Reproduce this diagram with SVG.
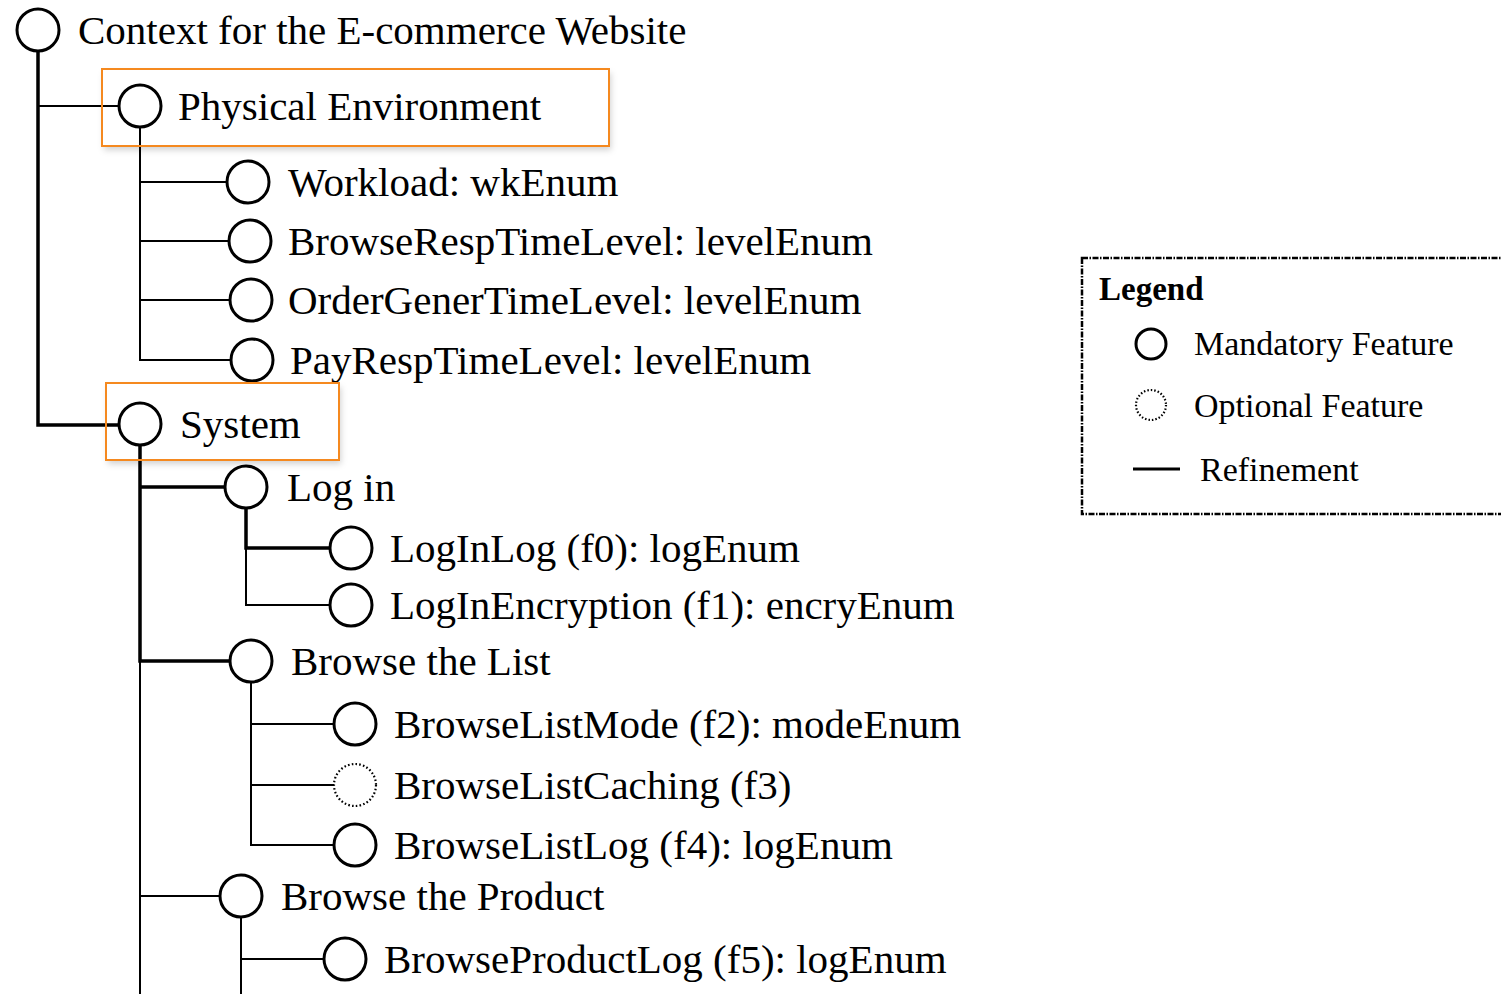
<svg xmlns="http://www.w3.org/2000/svg" width="1501" height="994" viewBox="0 0 1501 994">
<style>
text{font-family:"Liberation Serif","Times New Roman",serif;fill:#000}
.t{font-size:41px}
.lg{font-size:34px}
.f{fill:#fff;stroke:#000;stroke-width:3}
.o{fill:#fff;stroke:#000;stroke-width:2.2;stroke-dasharray:1.6 2.2}
.thin{stroke:#000;stroke-width:2;fill:none}
.thick{stroke:#000;stroke-width:3.5;fill:none}
.hl{fill:none;stroke:#F5891F;stroke-width:2}
</style>
<defs>
<filter id="sh" x="-5%" y="-10%" width="110%" height="130%">
<feDropShadow dx="2" dy="4" stdDeviation="3" flood-color="#000" flood-opacity="0.18"/>
</filter>
</defs>
<rect width="1501" height="994" fill="#fff"/>
<g id="highlights">
<rect x="102" y="69" width="507" height="77" fill="#fff" filter="url(#sh)"/>
<rect x="106" y="383" width="233" height="77" fill="#fff" filter="url(#sh)"/>
</g>
<g id="connectors">
<path class="thick" d="M38 51V425H119"/>
<path class="thin" d="M38 106H119"/>
<path class="thin" d="M140 127V360H231M140 182H227M140 241H229M140 300H230"/>
<path class="thick" d="M140 445V661H230M140 487H225"/>
<path class="thin" d="M140 661V994M140 896H220"/>
<path class="thick" d="M246 508V548H330"/>
<path class="thin" d="M246 548V605H330"/>
<path class="thin" d="M251 682V845H334M251 724H334M251 785H334"/>
<path class="thin" d="M241 917V994M241 959H324"/>
</g>
<g id="root"><circle class="f" cx="38" cy="30" r="21"/><text class="t" x="78" y="44">Context for the E-commerce Website</text></g>
<g id="physical"><rect class="hl" x="102" y="69" width="507" height="77"/><circle class="f" cx="140" cy="106" r="21"/><text class="t" x="178" y="120">Physical Environment</text></g>
<g id="workload"><circle class="f" cx="248" cy="182" r="21"/><text class="t" x="288" y="196">Workload: wkEnum</text></g>
<g id="browseresp"><circle class="f" cx="250" cy="241" r="21"/><text class="t" x="288" y="255">BrowseRespTimeLevel: levelEnum</text></g>
<g id="ordergener"><circle class="f" cx="251" cy="300" r="21"/><text class="t" x="288" y="314">OrderGenerTimeLevel: levelEnum</text></g>
<g id="payresp"><circle class="f" cx="252" cy="360" r="21"/><text class="t" x="290" y="374">PayRespTimeLevel: levelEnum</text></g>
<g id="system"><rect class="hl" x="106" y="383" width="233" height="77"/><circle class="f" cx="140" cy="424" r="21"/><text class="t" x="180" y="438">System</text></g>
<g id="login"><circle class="f" cx="246" cy="487" r="21"/><text class="t" x="287" y="501">Log in</text></g>
<g id="loginlog"><circle class="f" cx="351" cy="548" r="21"/><text class="t" x="390" y="562">LogInLog (f0): logEnum</text></g>
<g id="loginenc"><circle class="f" cx="351" cy="605" r="21"/><text class="t" x="390" y="619">LogInEncryption (f1): encryEnum</text></g>
<g id="browselist"><circle class="f" cx="251" cy="661" r="21"/><text class="t" x="291" y="675">Browse the List</text></g>
<g id="browselistmode"><circle class="f" cx="355" cy="724" r="21"/><text class="t" x="394" y="738">BrowseListMode (f2): modeEnum</text></g>
<g id="browselistcaching"><circle class="o" cx="355" cy="785" r="21"/><text class="t" x="394" y="799">BrowseListCaching (f3)</text></g>
<g id="browselistlog"><circle class="f" cx="355" cy="845" r="21"/><text class="t" x="394" y="859">BrowseListLog (f4): logEnum</text></g>
<g id="browseproduct"><circle class="f" cx="241" cy="896" r="21"/><text class="t" x="281" y="910">Browse the Product</text></g>
<g id="browseproductlog"><circle class="f" cx="345" cy="959" r="21"/><text class="t" x="384" y="973">BrowseProductLog (f5): logEnum</text></g>
<g id="legend">
<rect x="1082" y="258" width="440" height="256" fill="none" stroke="#000" stroke-width="2.5" stroke-dasharray="6 1.5 1.5 1.5"/>
<text x="1099" y="300" style="font-size:33px;font-weight:bold">Legend</text>
<circle cx="1151" cy="344" r="15" fill="#fff" stroke="#000" stroke-width="3"/>
<text class="lg" x="1194" y="355">Mandatory Feature</text>
<circle cx="1151" cy="405" r="15" fill="#fff" stroke="#000" stroke-width="2.2" stroke-dasharray="1.5 2"/>
<text class="lg" x="1194" y="417">Optional Feature</text>
<line x1="1133" y1="469" x2="1180" y2="469" stroke="#000" stroke-width="3"/>
<text class="lg" x="1200" y="481">Refinement</text>
</g>
</svg>
